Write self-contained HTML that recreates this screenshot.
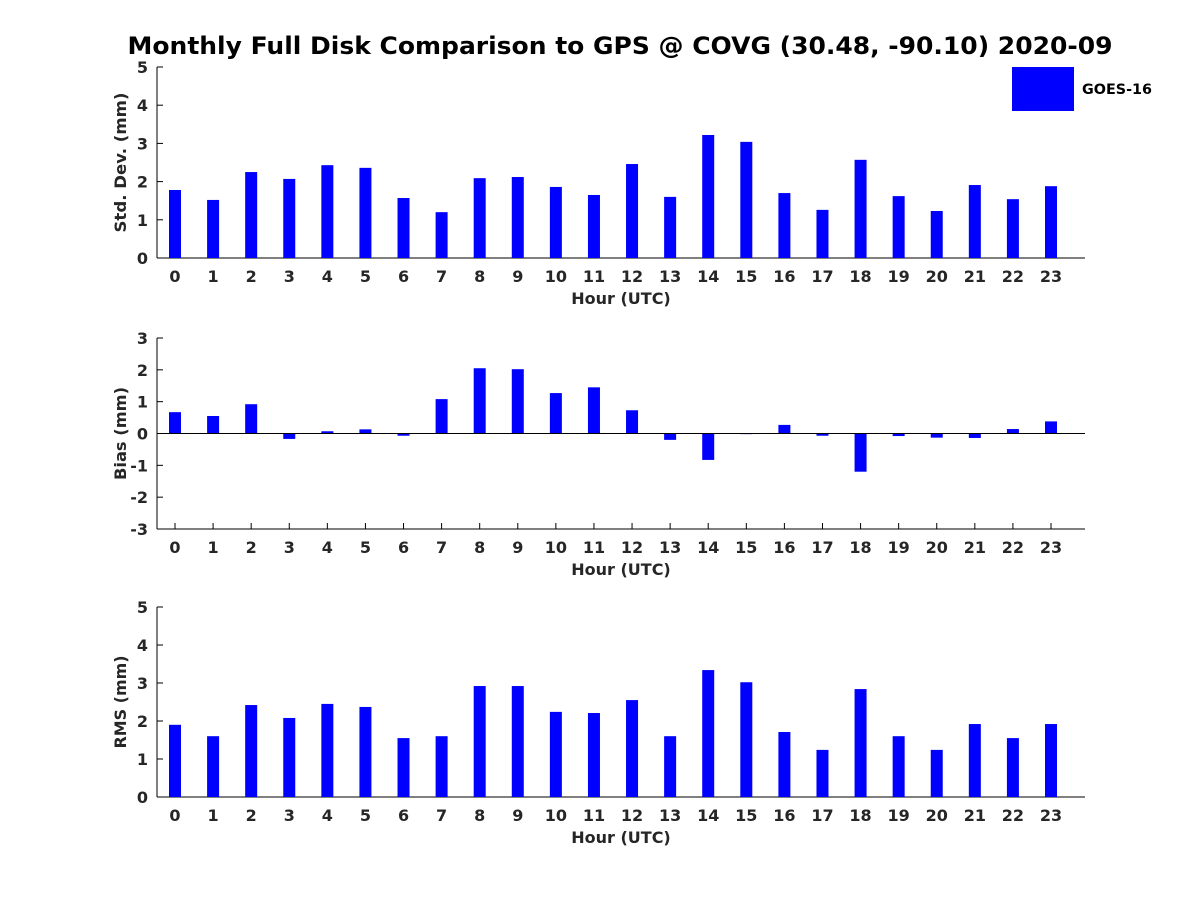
<!DOCTYPE html>
<html><head><meta charset="utf-8"><style>
body{margin:0;background:#fff}
svg{display:block;font-family:"DejaVu Sans","Liberation Sans",sans-serif;font-weight:bold}
</style></head><body>
<svg id="c" width="1200" height="900">
<text x="620" y="54" text-anchor="middle" font-size="24" textLength="985" lengthAdjust="spacingAndGlyphs" fill="#000">Monthly Full Disk Comparison to GPS @ COVG (30.48, -90.10) 2020-09</text>
<rect x="1012" y="67" width="62" height="44" fill="#0000ff"/>
<text x="1082" y="94" font-size="14" textLength="70" lengthAdjust="spacingAndGlyphs" fill="#000">GOES-16</text>
</svg>
<script>
const hours=[0,1,2,3,4,5,6,7,8,9,10,11,12,13,14,15,16,17,18,19,20,21,22,23];
const stdVals=[1.78,1.52,2.25,2.07,2.43,2.36,1.57,1.2,2.09,2.12,1.86,1.65,2.46,1.6,3.22,3.04,1.7,1.26,2.57,1.62,1.23,1.91,1.54,1.88];
const biasVals=[0.67,0.55,0.92,-0.17,0.07,0.13,-0.07,1.08,2.05,2.02,1.27,1.45,0.73,-0.2,-0.83,-0.02,0.27,-0.07,-1.2,-0.08,-0.13,-0.14,0.14,0.38];
const rmsVals=[1.9,1.6,2.42,2.08,2.45,2.37,1.55,1.6,2.92,2.92,2.24,2.21,2.55,1.6,3.34,3.02,1.71,1.24,2.84,1.6,1.24,1.92,1.55,1.92];
const stdTicks=[0,1,2,3,4,5];
const biasTicks=[-3,-2,-1,0,1,2,3];
const rmsTicks=[0,1,2,3,4,5];
const svg=document.getElementById('c');
const NS='http://www.w3.org/2000/svg';
function mk(tag,a){const e=document.createElementNS(NS,tag);for(const k in a)e.setAttribute(k,a[k]);svg.appendChild(e);return e;}
const X0=157,X1=1085;
const xs=h=>175+h*(1051-175)/23;
function panel(name,top,bot,ymin,ymax,ticks,vals,ylabel,labLen,zeroLine){
  const ys=v=>bot-(v-ymin)*(bot-top)/(ymax-ymin);
  let e;
  e=mk('line',{x1:X0,y1:top,x2:X0,y2:bot,stroke:'#000'});
  
  e=mk('line',{x1:X0,y1:bot,x2:X1,y2:bot,stroke:'#000'});
  
  ticks.forEach(t=>{
    e=mk('line',{x1:X0,y1:ys(t),x2:X0+6,y2:ys(t),stroke:'#000'});
    
    e=mk('text',{x:X0-9,y:ys(t)+6,'text-anchor':'end','font-size':16,fill:'#262626'});
    e.textContent=t;
    
  });
  hours.forEach((h,i)=>{
    e=mk('line',{x1:xs(h),y1:bot,x2:xs(h),y2:bot-6,stroke:'#000'});
    
    e=mk('text',{x:xs(h),y:bot+24,'text-anchor':'middle','font-size':16,fill:'#262626'});
    e.textContent=h;
    
    const v=vals[i],y0=ys(0),y1=ys(v);
    e=mk('rect',{x:xs(h)-6,y:Math.min(y0,y1),width:12,height:Math.abs(y1-y0),fill:'#0000ff'});
    
  });
  if(zeroLine){
    e=mk('line',{x1:X0,y1:ys(0),x2:X1,y2:ys(0),stroke:'#000'});
    
  }
  e=mk('text',{x:621,y:bot+46,'text-anchor':'middle','font-size':16,fill:'#262626'});
  e.textContent='Hour (UTC)';
  
  const cy=(top+bot)/2;
  e=mk('text',{x:126,y:cy,'text-anchor':'middle','font-size':16,textLength:labLen,lengthAdjust:'spacingAndGlyphs',fill:'#262626',transform:'rotate(-90 126 '+cy+')'});
  e.textContent=ylabel;
  
}
panel('std',67,258,0,5,stdTicks,stdVals,'Std. Dev. (mm)',140,false);
panel('bias',338,529,-3,3,biasTicks,biasVals,'Bias (mm)',93,true);
panel('rms',607,797,0,5,rmsTicks,rmsVals,'RMS (mm)',93,false);
</script>
</body></html>
